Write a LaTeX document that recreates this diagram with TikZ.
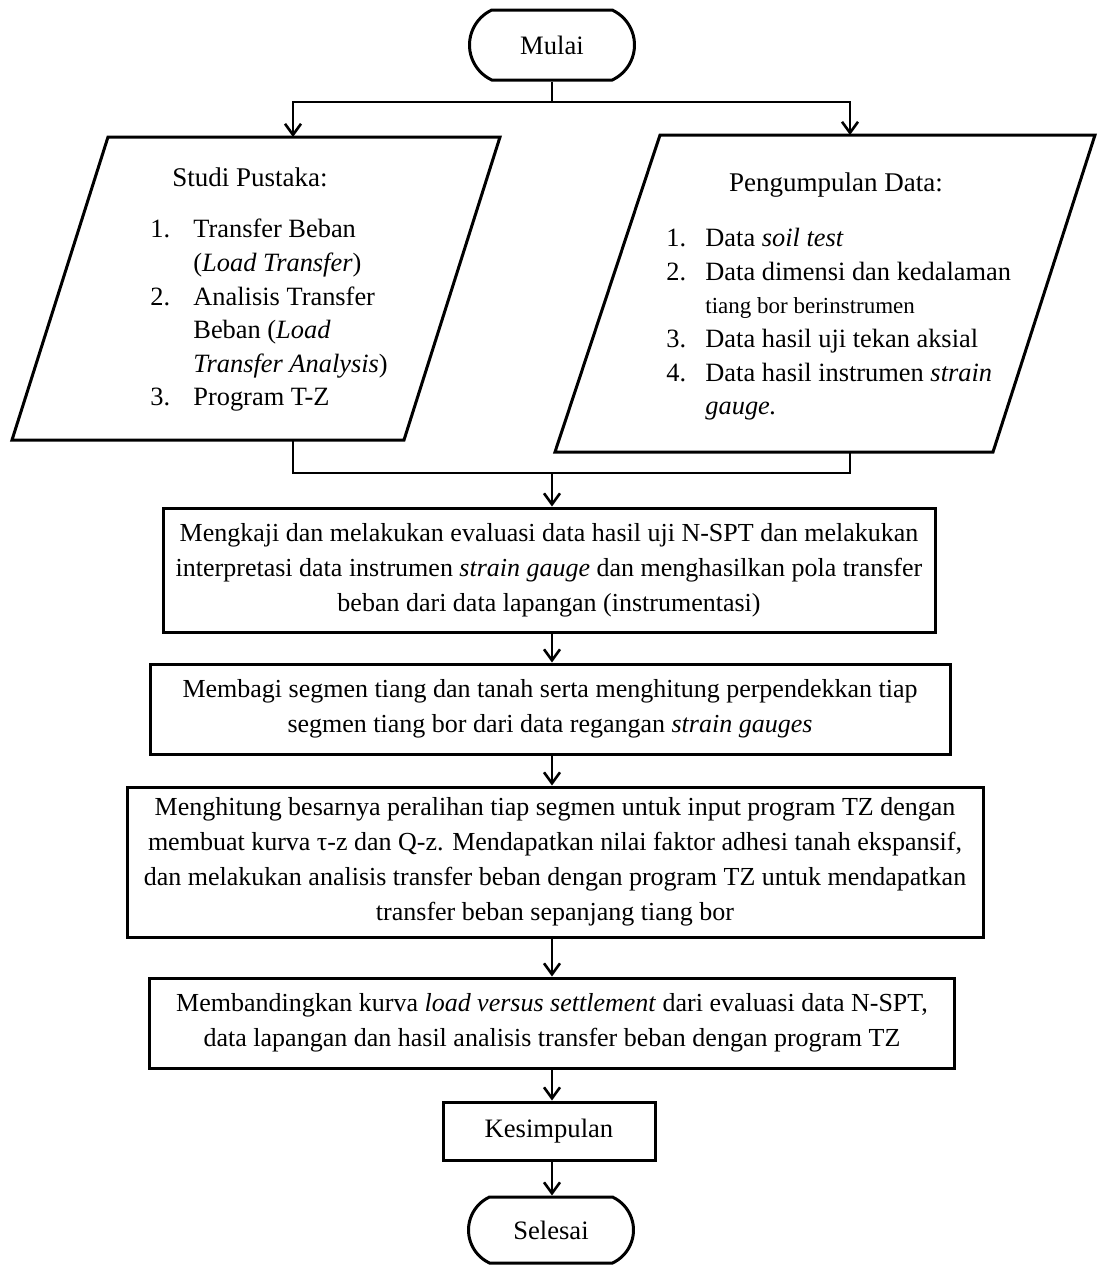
\documentclass[tikz,border=0pt]{standalone}
\usepackage{fontspec}
\setmainfont{Liberation Serif}
\usetikzlibrary{arrows.meta,shapes.misc}
\begin{document}
\begin{tikzpicture}[x=0.5pt,y=-0.5pt,
  lw/.style={line width=1.5pt},
  box/.style={draw,lw,align=center,inner sep=0pt,font=\fontsize{13}{17.5}\selectfont},
  term/.style={draw,lw,rounded rectangle,rounded rectangle arc length=130,inner sep=0pt,font=\fontsize{13.3}{15}\selectfont},
  con/.style={line width=1.3pt},
  arr/.style={con,-{Straight Barb[length=5.5pt,width=8pt]}},
  lst/.style={align=left,inner sep=0pt,font=\fontsize{13.2}{16.8}\selectfont},
  ttl/.style={inner sep=0pt,font=\fontsize{13.5}{15}\selectfont}]
\useasboundingbox (0,0) rectangle (1099,1265);
\coordinate (axis) at (552,0);

% start
\node[term,minimum width=82.5pt,minimum height=35pt] (mulai) at (552,45) {Mulai};

% left parallelogram
\coordinate (L1) at (108,137);
\coordinate (L2) at (500,137);
\coordinate (L3) at (404,440);
\coordinate (L4) at (12,440);
\draw[lw] (L1) -- (L2) -- (L3) -- (L4) -- cycle;
\coordinate (Ltop) at (293,137);
\coordinate (Lbot) at (293,440);
\node[ttl] (studi) at (250,177) {Studi Pustaka:};
\node[lst,anchor=north west] (studilist) at (150,219) {%
\makebox[21.5pt][l]{1.}Transfer Beban\\
\hspace*{21.5pt}(\textit{Load Transfer})\\
\makebox[21.5pt][l]{2.}Analisis Transfer\\
\hspace*{21.5pt}Beban (\textit{Load}\\
\hspace*{21.5pt}\textit{Transfer Analysis})\\
\makebox[21.5pt][l]{3.}Program T-Z};

% right parallelogram
\coordinate (R1) at (660,135);
\coordinate (R2) at (1095,135);
\coordinate (R3) at (993,452);
\coordinate (R4) at (555,452);
\draw[lw] (R1) -- (R2) -- (R3) -- (R4) -- cycle;
\coordinate (Rtop) at (850,135);
\coordinate (Rbot) at (850,452);
\node[ttl] (kumpul) at (836,185) {Pengumpulan Data:};
\node[lst,anchor=north west] (kumpullist) at (666,228) {%
\makebox[19.5pt][l]{1.}Data \textit{soil test}\\
\makebox[19.5pt][l]{2.}Data dimensi dan kedalaman\\
\hspace*{19.5pt}{\fontsize{11.5}{16.8}\selectfont tiang bor berinstrumen}\\
\makebox[19.5pt][l]{3.}Data hasil uji tekan aksial\\
\makebox[19.5pt][l]{4.}Data hasil instrumen \textit{strain}\\
\hspace*{19.5pt}\textit{gauge.}};

% boxes
\node[box,minimum width=386pt,minimum height=62pt] (b1) at (549,570) {%
Mengkaji dan melakukan evaluasi data hasil uji N-SPT dan melakukan\\
interpretasi data instrumen \textit{strain gauge} dan menghasilkan pola transfer\\
beban dari data lapangan (instrumentasi)};
\node[box,minimum width=400pt,minimum height=45pt] (b2) at (550,709) {%
Membagi segmen tiang dan tanah serta menghitung perpendekkan tiap\\
segmen tiang bor dari data regangan \textit{strain gauges}};
\node[box,minimum width=428pt,minimum height=75pt] (b3) at (555,862) {%
Menghitung besarnya peralihan tiap segmen untuk input program TZ dengan\\
membuat kurva τ-z dan Q-z. Mendapatkan nilai faktor adhesi tanah ekspansif,\\
dan melakukan analisis transfer beban dengan program TZ untuk mendapatkan\\
transfer beban sepanjang tiang bor};
\node[box,minimum width=402.5pt,minimum height=45pt] (b4) at (552,1023) {%
Membandingkan kurva \textit{load versus settlement} dari evaluasi data N-SPT,\\
data lapangan dan hasil analisis transfer beban dengan program TZ};
\node[box,minimum width=106pt,minimum height=29pt,font=\fontsize{13.3}{15}\selectfont] (kes) at (549,1131) {Kesimpulan};
\node[term,minimum width=82.5pt,minimum height=33pt] (selesai) at (551,1230) {Selesai};

% connectors
\coordinate (split) at (552,102);
\coordinate (join) at (552,473);
\draw[con] (mulai.south) -- (split);
\draw[arr] (split) -| (Ltop);
\draw[arr] (split) -| (Rtop);
\draw[con] (Lbot) |- (join);
\draw[con] (Rbot) |- (join);
\draw[arr] (join) -- (b1.north -| axis);
\draw[arr] (b1.south -| axis) -- (b2.north -| axis);
\draw[arr] (b2.south -| axis) -- (b3.north -| axis);
\draw[arr] (b3.south -| axis) -- (b4.north -| axis);
\draw[arr] (b4.south -| axis) -- (kes.north -| axis);
\draw[arr] (kes.south -| axis) -- (selesai.north -| axis);
\end{tikzpicture}
\end{document}
